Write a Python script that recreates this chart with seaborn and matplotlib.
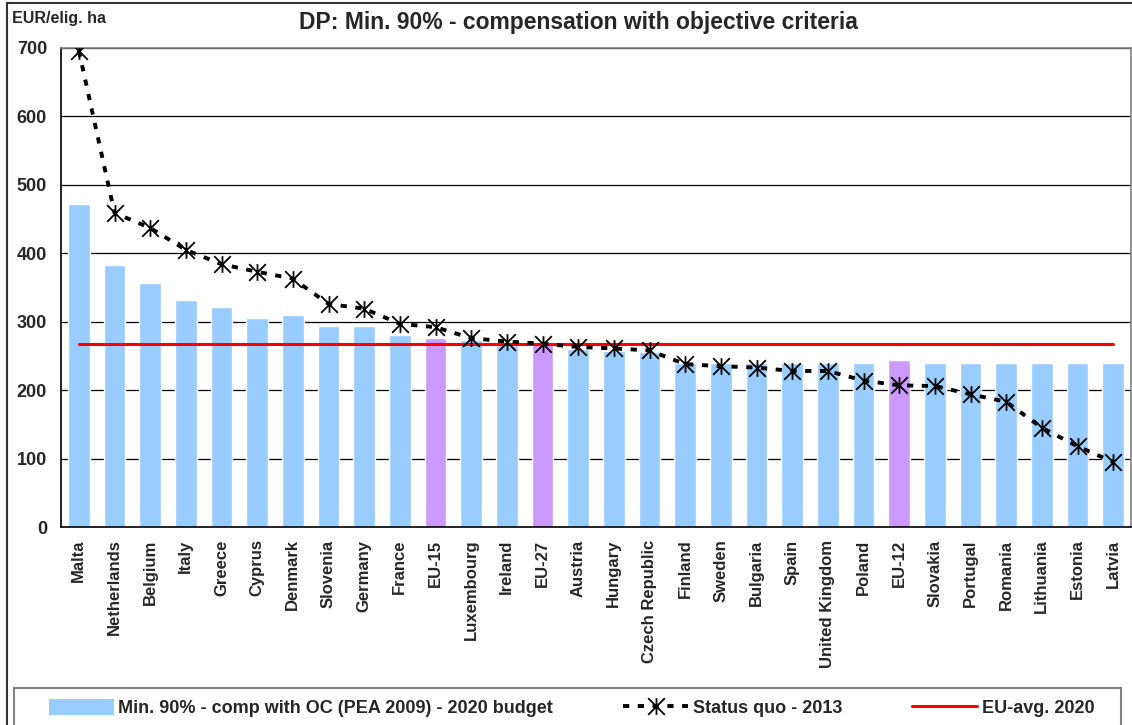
import numpy as np
import pandas as pd
import matplotlib
matplotlib.use('Agg')
import matplotlib.pyplot as plt
import seaborn as sns
from matplotlib.path import Path
from matplotlib.patches import Patch, Rectangle
from matplotlib.lines import Line2D

# data
countries = ['Malta', 'Netherlands', 'Belgium', 'Italy', 'Greece', 'Cyprus', 'Denmark',
             'Slovenia', 'Germany', 'France', 'EU-15', 'Luxembourg', 'Ireland', 'EU-27',
             'Austria', 'Hungary', 'Czech Republic', 'Finland', 'Sweden', 'Bulgaria', 'Spain',
             'United Kingdom', 'Poland', 'EU-12', 'Slovakia', 'Portugal', 'Romania',
             'Lithuania', 'Estonia', 'Latvia']
min90_2020 = [472, 383, 357, 332, 321, 305, 310, 294, 294, 281, 276, 273, 266, 267, 260,
              257, 256, 240, 240, 240, 240, 240, 240, 244, 240, 240, 240, 240, 240, 240]
status_quo_2013 = [696, 459, 437, 405, 384, 373, 363, 326, 319, 297, 292, 276, 271, 268, 263,
                   261, 258, 238, 235, 233, 228, 228, 214, 207, 206, 194, 183, 145, 118, 95]
eu_avg_2020 = 267

blue = '#99CCFF'
purple = '#CC99FF'
bar_colors = [purple if c.startswith('EU-') else blue for c in countries]

sns.set_style('white')
plt.rcParams['font.family'] = ['Liberation Sans', 'DejaVu Sans']
plt.rcParams['font.weight'] = 'bold'

df = pd.DataFrame({'country': countries, 'value': min90_2020})

fig = plt.figure(figsize=(11.32, 7.25), dpi=100)
ax = fig.add_axes([61 / 1132, 198 / 725, (1131 - 61) / 1132, 479 / 725])

sns.barplot(data=df, x='country', y='value', hue='country', palette=bar_colors,
            legend=False, width=0.6, saturation=1, ax=ax, zorder=2)

# asterisk marker: vertical bar + X
star = Path([(0, -1), (0, 1), (-1, -1), (1, 1), (-1, 1), (1, -1)],
            [Path.MOVETO, Path.LINETO, Path.MOVETO, Path.LINETO, Path.MOVETO, Path.LINETO])

pos = np.arange(len(countries))
ax.plot(pos, status_quo_2013, color='black', lw=2.8, linestyle=(0, (1.6, 2.2)),
        marker=star, markersize=12, markeredgewidth=1.3, markerfacecolor='none',
        markeredgecolor='black', zorder=4)
ax.plot([pos[0], pos[-1]], [eu_avg_2020, eu_avg_2020], color='red', lw=2.2, zorder=3)

ax.set_ylim(0, 700)
ax.set_xlim(-0.5, len(countries) - 0.5)
ax.set_yticks(range(0, 701, 100))
ax.yaxis.grid(True, color='black', lw=0.9, zorder=0)
ax.set_axisbelow(True)
ax.set_xlabel('')
ax.set_ylabel('')

ax.set_xticks(pos)
ax.set_xticklabels(countries, rotation=90, fontsize=12, fontweight='bold', va='top', ha='center')
ax.set_xticks(np.arange(-0.5, len(countries), 1), minor=True)
ax.tick_params(axis='x', which='major', length=0, pad=9)
ax.tick_params(axis='x', which='minor', length=6, width=1, color='black', direction='out')
ax.tick_params(axis='y', length=6, width=1, color='black', direction='out', labelsize=13, pad=4)
for lbl in ax.get_yticklabels():
    lbl.set_fontweight('bold')

for side in ['left', 'bottom']:
    ax.spines[side].set_color('black')
    ax.spines[side].set_linewidth(1.2)
for side in ['top', 'right']:
    ax.spines[side].set_color('#808080')
    ax.spines[side].set_linewidth(1.2)

fig.text(578 / 1132, 1 - 22 / 725, 'DP: Min. 90% - compensation with objective criteria',
         ha='center', va='center', fontsize=16.5, fontweight='bold')
fig.text(12 / 1132, 1 - 18 / 725, 'EUR/elig. ha', ha='left', va='center',
         fontsize=11.5, fontweight='bold')

# outer chart frame
fig.patches.append(Rectangle((7 / 1132, -0.1), 1.2, 1.1 - 3 / 725, transform=fig.transFigure,
                             fill=False, edgecolor='#333333', lw=1.5))
# legend box
fig.patches.append(Rectangle((14 / 1132, -0.05), (1121 - 14) / 1132, 0.05 + 37 / 725,
                             transform=fig.transFigure, facecolor='white',
                             edgecolor='#808080', lw=1.5, zorder=3))

handles = [
    Patch(facecolor=blue, edgecolor='none', label='Min. 90% - comp with OC (PEA 2009) - 2020 budget'),
    Line2D([], [], color='black', lw=2.8, linestyle=(0, (1.6, 2.2)), marker=star, markersize=12,
           markeredgewidth=1.3, markerfacecolor='none', label='Status quo - 2013'),
    Line2D([], [], color='red', lw=2.2, label='EU-avg. 2020'),
]
leg = fig.legend(handles=handles, ncol=3, loc='upper left',
                 bbox_to_anchor=(38 / 1132, 37 / 725, (1105 - 38) / 1132, 0), mode='expand',
                 borderaxespad=0, frameon=False, fontsize=13,
                 handlelength=3.6, handleheight=1.0, handletextpad=0.25, borderpad=0.6,
                 columnspacing=3)
leg.set_zorder(5)
for t in leg.get_texts():
    t.set_fontweight('bold')

fig.savefig('out.png', dpi=100)
